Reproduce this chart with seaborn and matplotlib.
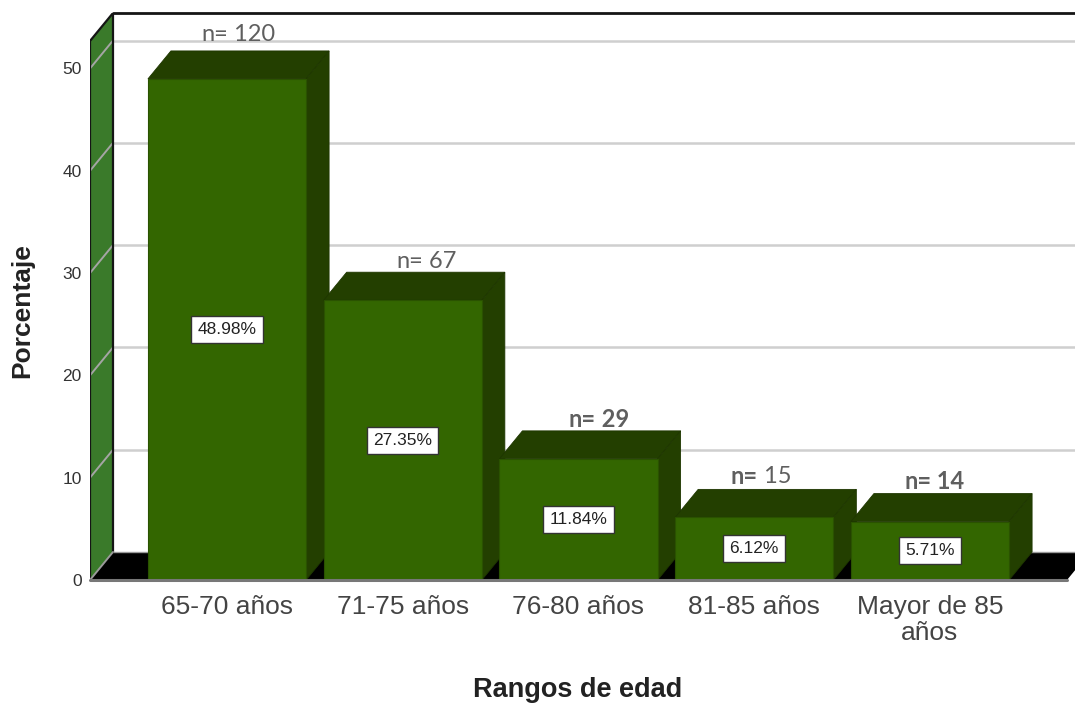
import matplotlib
matplotlib.use("Agg")
import matplotlib.pyplot as plt
from matplotlib.patches import Polygon
import seaborn as sns
import pandas as pd

# values
categories = ["65-70 años", "71-75 años", "76-80 años", "81-85 años", "Mayor de 85\naños"]
percent = [48.98, 27.35, 11.84, 6.12, 5.71]
percent_labels = ["48.98%", "27.35%", "11.84%", "6.12%", "5.71%"]
n_counts = ["120", "67", "29", "15", "14"]
y_ticks = [0, 10, 20, 30, 40, 50]

# n= label style: weight of "n=", weight of the number, shift in x and y (px)
n_weights = [("normal", "normal"), ("normal", "normal"), ("bold", "bold"), ("bold", "normal"), ("bold", "bold")]
n_shift = [2, 21, 18, 4, 2]
n_lift = [44, 39, 39, 41, 40]

front_col = "#336600"
dark_col = "#233f00"
wall_col = "#3a7a2a"
grid_col = "#cfcfcf"
text_col = "#5f5f5f"

sns.set_theme(style="white")
plt.rcParams["font.family"] = ["Liberation Sans", "DejaVu Sans"]

W, H = 1075, 703
fig = plt.figure(figsize=(W / 100, H / 100), dpi=100)
# axes = front plane, runs past the right edge like the cropped original
ax = fig.add_axes([90 / W, (H - 580) / H, 1000 / W, 567 / H])

data = pd.DataFrame({"rango": categories, "pct": percent})
sns.barplot(data=data, x="rango", y="pct", color=front_col, saturation=1, width=0.9, ax=ax)

unit_x = 175.75
unit_y = 10.23
ax.set_xlim(-137 / unit_x, (1090 - 227) / unit_x)
ax.set_ylim(0, 567 / unit_y)
x0, x1 = ax.get_xlim()
y1 = ax.get_ylim()[1]
dx = 23 / unit_x
dy = 28 / unit_y
wall_top = y1 - dy
right_front = x1 - dx

# walls and floor
ax.add_patch(Polygon([(x0, 0), (x0 + dx, dy), (x0 + dx, y1), (x0, wall_top)], fc=wall_col, ec="none", zorder=1))
ax.add_patch(Polygon([(x0, 0), (x0 + dx, dy), (x1, dy), (right_front, 0)], fc="black", ec="none", zorder=1))

for t in y_ticks[1:]:
    ax.plot([x0, x0 + dx], [t, t + dy], color="#a5a5a5", lw=1.4, zorder=1.5)
    ax.plot([x0 + dx, x1], [t + dy, t + dy], color=grid_col, lw=1.8, zorder=1.5)

ax.plot([x0, x0, x0 + dx, x0 + dx], [0, wall_top, y1, dy], color="#151515", lw=1.6, zorder=2)
ax.plot([x0 + dx, x1], [y1, y1], color="#151515", lw=2, zorder=2, clip_on=False)
ax.plot([x0, x0 + dx], [0, dy], color="#9a9a9a", lw=1.4, zorder=2)
ax.plot([x0 + dx, x1], [dy, dy], color="#9a9a9a", lw=1, zorder=1.4)
ax.plot([x0, right_front], [0, 0], color="#777777", lw=2.2, zorder=30, clip_on=False)

# extrude each bar, later bars sit in front of earlier ones
for i, bar in enumerate(ax.patches[:len(percent)]):
    left, w, h = bar.get_x(), bar.get_width(), bar.get_height()
    z = 3 + i
    bar.set_zorder(z + 0.5)
    bar.set_edgecolor("#2a5200")
    bar.set_linewidth(0.8)
    ax.add_patch(Polygon([(left, h), (left + dx, h + dy), (left + w + dx, h + dy), (left + w, h)],
                         fc=dark_col, ec="#1e3600", lw=0.6, zorder=z))
    ax.add_patch(Polygon([(left + w, 0), (left + w + dx, dy), (left + w + dx, h + dy), (left + w, h)],
                         fc=dark_col, ec="#1e3600", lw=0.6, zorder=z))

    ax.text(left + w / 2, h / 2, percent_labels[i], ha="center", va="center", fontsize=12.5, color="#222222", zorder=20,
            bbox=dict(boxstyle="square,pad=0.35", fc="white", ec="#333333", lw=1))

    first = ax.annotate("n=", xy=(left + w / 2, h), xytext=(n_shift[i] * 0.72 - 20, n_lift[i] * 0.72),
                        textcoords="offset points", ha="left", va="center", fontsize=17, color=text_col,
                        family="Lato", fontweight=n_weights[i][0], zorder=21)
    ax.annotate(" " + n_counts[i], xy=(1, 0.5), xycoords=first, va="center", ha="left", fontsize=17,
                color=text_col, family="Lato", fontweight=n_weights[i][1], zorder=21)

sns.despine(ax=ax, left=True, bottom=True, top=True, right=True)

ax.set_yticks(y_ticks)
ax.tick_params(axis="y", length=0, pad=6, labelsize=12.5, labelcolor="#333333")
ax.tick_params(axis="x", length=0, pad=11, labelsize=19, labelcolor="#444444")
for lab in ax.get_xticklabels():
    lab.set_linespacing(1.1)

ax.set_xlabel("Rangos de edad", fontsize=19.5, fontweight="bold", color="#222222")
ax.set_ylabel("Porcentaje", fontsize=19, fontweight="bold", color="#222222")
ax.xaxis.set_label_coords((578 - 90) / 1000, (580 - 690) / 567, transform=ax.transAxes)
ax.xaxis.label.set_va("center")
ax.yaxis.set_label_coords((22 - 90) / 1000, (580 - 311) / 567, transform=ax.transAxes)
ax.yaxis.label.set_va("center")

plt.savefig("out.png", dpi=100)
